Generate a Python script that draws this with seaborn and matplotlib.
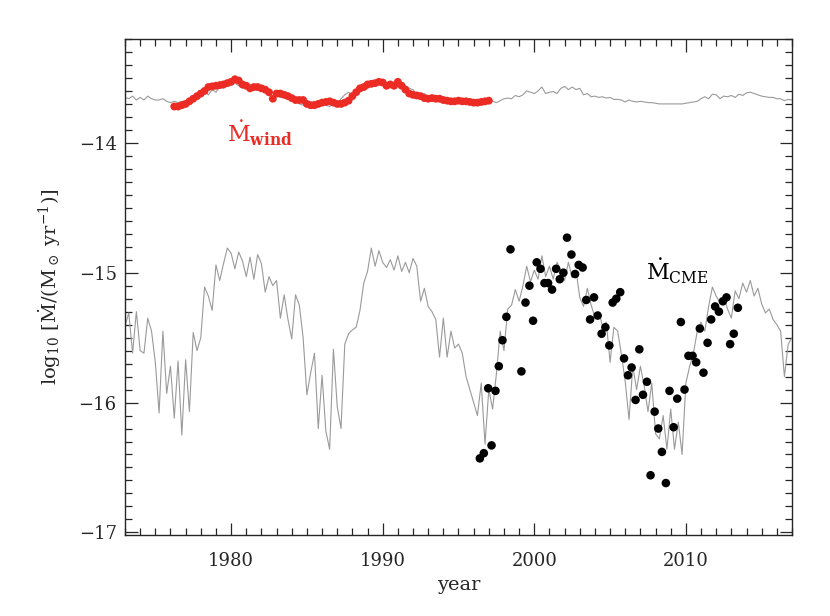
import numpy as np
import matplotlib.pyplot as plt
from matplotlib.ticker import MultipleLocator
import seaborn as sns

sns.set_style('ticks')
plt.rcParams['font.family'] = ['DejaVu Serif']
plt.rcParams['mathtext.fontset'] = 'dejavuserif'
plt.rcParams['xtick.direction'] = 'in'
plt.rcParams['ytick.direction'] = 'in'

## data (quarterly samples starting 1973.0)
mdot_low = [
    -15.41, -15.31, -15.62, -15.30,  # 1973
    -15.60, -15.62, -15.35, -15.45,
    -15.69, -16.08, -15.45, -15.93,  # 1975
    -15.72, -16.12, -15.68, -16.25,
    -15.67, -16.07, -15.46, -15.60,  # 1977
    -15.50, -15.11, -15.18, -15.29,
    -14.94, -15.06, -14.93, -14.81,  # 1979
    -14.85, -14.97, -14.84, -14.91,
    -15.03, -14.88, -15.05, -14.86,  # 1981
    -14.93, -15.15, -15.03, -15.10,
    -15.06, -15.35, -15.17, -15.36,  # 1983
    -15.51, -15.17, -15.25, -15.50,
    -15.94, -15.77, -15.62, -16.20,  # 1985
    -15.79, -16.22, -16.36, -15.59,
    -16.03, -16.20, -15.55, -15.47,  # 1987
    -15.44, -15.42, -15.29, -15.08,
    -14.99, -14.81, -14.95, -14.83,  # 1989
    -14.92, -14.96, -14.90, -14.98,
    -14.87, -14.99, -14.92, -15.00,  # 1991
    -14.89, -14.95, -15.22, -15.12,
    -15.26, -15.30, -15.36, -15.65,  # 1993
    -15.35, -15.65, -15.45, -15.58,
    -15.55, -15.62, -15.80, -15.90,  # 1995
    -16.00, -16.10, -15.85, -16.32,
    -15.90, -16.05, -15.78, -15.45,  # 1997
    -15.60, -15.28, -15.25, -15.13,
    -15.22, -15.10, -14.95, -15.07,  # 1999
    -14.98, -15.05, -14.87, -15.03,
    -14.95, -15.05, -14.92, -14.98,  # 2001
    -15.06, -14.92, -15.04, -14.98,
    -15.19, -15.26, -15.12, -15.25,  # 2003
    -15.34, -15.30, -15.41, -15.38,
    -15.69, -15.42, -15.45, -15.63,  # 2005
    -15.84, -16.13, -15.72, -15.90,
    -15.72, -15.87, -16.07, -15.85,  # 2007
    -16.24, -16.28, -16.10, -16.36,
    -16.05, -16.36, -16.15, -16.40,  # 2009
    -15.85, -15.72, -15.62, -15.45,
    -15.38, -15.45, -15.26, -15.11,  # 2011
    -15.18, -15.23, -15.19, -15.28,
    -15.35, -15.14, -15.20, -15.08,  # 2013
    -15.15, -15.06, -15.18, -15.12,
    -15.24, -15.31, -15.28, -15.36,  # 2015
    -15.40, -15.45, -15.80, -15.55,
    -15.50,
]

mdot_high = [
    -13.65, -13.66, -13.64, -13.67,  # 1973
    -13.65, -13.67, -13.64, -13.66,
    -13.67, -13.67, -13.66, -13.68,  # 1975
    -13.69, -13.68, -13.69, -13.68,
    -13.68, -13.67, -13.66, -13.63,  # 1977
    -13.61, -13.60, -13.63, -13.59,
    -13.61, -13.57, -13.58, -13.54,  # 1979
    -13.52, -13.54, -13.56, -13.58,
    -13.57, -13.56, -13.59, -13.57,  # 1981
    -13.59, -13.61, -13.62, -13.61,
    -13.64, -13.65, -13.64, -13.63,  # 1983
    -13.66, -13.68, -13.70, -13.71,
    -13.69, -13.69, -13.68, -13.69,  # 1985
    -13.69, -13.71, -13.72, -13.69,
    -13.70, -13.66, -13.63, -13.61,  # 1987
    -13.63, -13.60, -13.61, -13.59,
    -13.58, -13.56, -13.55, -13.54,  # 1989
    -13.55, -13.54, -13.555, -13.55,
    -13.56, -13.57, -13.56, -13.58,  # 1991
    -13.59, -13.63, -13.64, -13.62,
    -13.64, -13.65, -13.66, -13.67,  # 1993
    -13.67, -13.68, -13.68, -13.69,
    -13.68, -13.69, -13.68, -13.69,  # 1995
    -13.69, -13.685, -13.69, -13.68,
    -13.67, -13.68, -13.69, -13.675,  # 1997
    -13.66, -13.655, -13.66, -13.635,
    -13.645, -13.63, -13.60, -13.61,  # 1999
    -13.62, -13.60, -13.57, -13.62,
    -13.61, -13.605, -13.62, -13.58,  # 2001
    -13.565, -13.59, -13.57, -13.59,
    -13.58, -13.63, -13.62, -13.645,  # 2003
    -13.64, -13.65, -13.645, -13.655,
    -13.65, -13.665, -13.665, -13.67,  # 2005
    -13.685, -13.67, -13.68, -13.685,
    -13.68, -13.685, -13.69, -13.69,  # 2007
    -13.695, -13.70, -13.70, -13.70,
    -13.70, -13.70, -13.70, -13.70,  # 2009
    -13.695, -13.69, -13.685, -13.68,
    -13.66, -13.645, -13.66, -13.625,  # 2011
    -13.63, -13.66, -13.64, -13.645,
    -13.635, -13.65, -13.625, -13.635,  # 2013
    -13.615, -13.61, -13.62, -13.63,
    -13.64, -13.645, -13.65, -13.65,  # 2015
    -13.66, -13.66, -13.675, -13.665,
    -13.67,
]

# wind mass-loss, quarterly from 1976.25
mdot_wind = [
    -13.72, -13.72, -13.71,
    -13.70, -13.68, -13.66, -13.64,  # 1977
    -13.62, -13.60, -13.57, -13.565,
    -13.56, -13.555, -13.55, -13.54,  # 1979
    -13.53, -13.51, -13.52, -13.55,
    -13.56, -13.58, -13.57, -13.57,  # 1981
    -13.58, -13.59, -13.61, -13.66,
    -13.62, -13.62, -13.63, -13.64,  # 1983
    -13.655, -13.67, -13.67, -13.67,
    -13.70, -13.71, -13.71, -13.70,  # 1985
    -13.69, -13.685, -13.68, -13.69,
    -13.70, -13.70, -13.69, -13.675,  # 1987
    -13.64, -13.61, -13.58, -13.57,
    -13.55, -13.545, -13.54, -13.53,  # 1989
    -13.535, -13.56, -13.55, -13.56,
    -13.53, -13.56, -13.59, -13.62,  # 1991
    -13.63, -13.635, -13.64, -13.655,
    -13.66, -13.655, -13.66, -13.66,  # 1993
    -13.67, -13.675, -13.68, -13.68,
    -13.675, -13.68, -13.68, -13.685,  # 1995
    -13.69, -13.69, -13.685, -13.68,
    -13.675,
]

# CME mass-loss
cme_years = [
    1996.41, 1996.67, 1997.18, 1996.96, 1997.44, 1997.66, 1997.90, 1998.16,
    1998.43, 1999.15, 1999.42, 1999.68, 1999.92, 2000.16, 2000.41, 2000.67,
    2000.91, 2001.17, 2001.44, 2001.68, 2001.92, 2002.16, 2002.45, 2002.69,
    2002.93, 2003.19, 2003.43, 2003.68, 2003.94, 2004.18, 2004.44, 2004.69,
    2004.95, 2005.17, 2005.41, 2005.67, 2005.92, 2006.18, 2006.42, 2006.68,
    2006.93, 2007.17, 2007.43, 2007.67, 2007.94, 2008.18, 2008.42, 2008.68,
    2008.92, 2009.19, 2009.43, 2009.67, 2009.91, 2010.17, 2010.44, 2010.68,
    2010.92, 2011.16, 2011.43, 2011.67, 2011.93, 2012.18, 2012.44, 2012.68,
    2012.92, 2013.16, 2013.43,
]
mdot_cme = [
    -16.43, -16.39, -16.33, -15.89, -15.91, -15.72, -15.52, -15.34,
    -14.82, -15.76, -15.23, -15.10, -15.37, -14.92, -14.97, -15.08,
    -15.08, -15.13, -14.97, -15.05, -15.00, -14.73, -14.86, -15.01,
    -14.94, -14.96, -15.21, -15.36, -15.19, -15.33, -15.47, -15.42,
    -15.56, -15.23, -15.20, -15.15, -15.66, -15.79, -15.73, -15.98,
    -15.59, -15.94, -15.84, -16.56, -16.07, -16.20, -16.38, -16.62,
    -15.91, -16.19, -15.97, -15.38, -15.90, -15.64, -15.64, -15.69,
    -15.43, -15.77, -15.54, -15.36, -15.26, -15.30, -15.22, -15.19,
    -15.55, -15.47, -15.27,
]

years_q = 1973 + 0.25 * np.arange(len(mdot_low))
wind_years = 1976.25 + 0.25 * np.arange(len(mdot_wind))

fig = plt.figure(figsize=(8.3, 6.16), dpi=100)
ax = fig.add_axes([0.1506, 0.1315, 0.8036, 0.8052])

sns.lineplot(x=years_q, y=mdot_low, color='#9a9a9a', lw=0.8, estimator=None, sort=False, ax=ax)
sns.lineplot(x=years_q, y=mdot_high, color='#9a9a9a', lw=0.8, estimator=None, sort=False, ax=ax)
sns.scatterplot(x=wind_years, y=mdot_wind, color='#ec2b25', s=32, edgecolor='none', ax=ax, zorder=3)
sns.scatterplot(x=cme_years, y=mdot_cme, color='black', s=38, edgecolor='none', ax=ax, zorder=3)

ax.text(1979.7, -14.0, r'$\dot{\mathrm{M}}_{\mathbf{wind}}$', color='#ec2b25', fontsize=16)
ax.text(2007.35, -15.06, r'$\dot{\mathrm{M}}_{\mathrm{CME}}$', color='black', fontsize=16)

ax.set_xlim(1973, 2017)
ax.set_ylim(-17.02, -13.2)
ax.xaxis.set_major_locator(MultipleLocator(10))
ax.xaxis.set_minor_locator(MultipleLocator(1))
ax.yaxis.set_major_locator(MultipleLocator(1))
ax.yaxis.set_minor_locator(MultipleLocator(0.1))
ax.tick_params(which='both', direction='in', top=True, right=True, width=0.9, labelsize=13)
ax.tick_params(which='major', length=9)
ax.tick_params(which='minor', length=5)
ax.tick_params(axis='x', pad=12)
ax.tick_params(axis='y', pad=6)
for sp in ax.spines.values():
    sp.set_linewidth(1.0)

ax.set_xlabel('year', fontsize=14)
ax.set_ylabel(r'log$_{10}$ [$\dot{\mathrm{M}}$/(M$_\odot$ yr$^{-1}$)]', fontsize=14)
ax.yaxis.set_label_coords(-0.093, 0.5)
ax.xaxis.set_label_coords(0.5, -0.082)

fig.savefig('out.png', dpi=100)
